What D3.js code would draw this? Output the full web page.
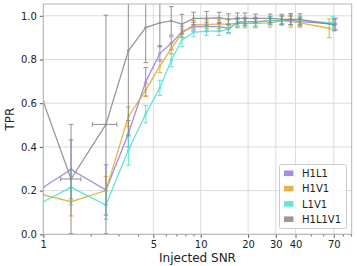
<!DOCTYPE html>
<html><head><meta charset="utf-8">
<script src="https://cdn.jsdelivr.net/npm/d3@7/dist/d3.min.js"></script>
<style>body{margin:0;background:#fff}svg{display:block}text{font-family:"DejaVu Sans",sans-serif}</style>
</head><body>
<svg id="c" width="357" height="266"></svg>
<script>
const baseSnr = [1, 1.5, 2.5, 3.47, 4.47, 5.5, 6.5, 7.6, 9.0, 10.9, 13.1, 15.0, 17.1, 19.1, 22.3, 27.6, 32.7, 37.3, 42.7];
const seriesNames = ["H1L1", "H1V1", "L1V1", "H1L1V1"];
const seriesColors = ["mediumpurple", "goldenrod", "turquoise", "gray"];
const lastSnr = [72, 65.5, 68.8, 70.4];
const tprH1L1 = [0.215, 0.297, 0.203, 0.46, 0.698, 0.828, 0.874, 0.927, 0.95, 0.95, 0.95, 0.943, 0.968, 0.973, 0.973, 0.978, 0.978, 0.98, 0.973, 0.962];
const errH1L1 = [0, 0.135, 0.115, 0.06, 0.065, 0.035, 0.03, 0.025, 0.02, 0.02, 0.02, 0.02, 0.018, 0.018, 0.02, 0.018, 0.02, 0.02, 0.02, 0.027];
const tprH1V1 = [0.18, 0.149, 0.2, 0.538, 0.66, 0.77, 0.851, 0.92, 0.958, 0.961, 0.962, 0.962, 0.965, 0.965, 0.965, 0.968, 0.978, 0.973, 0.968, 0.943];
const errH1V1 = [0, 0.065, 0.065, 0.045, 0.03, 0.03, 0.025, 0.02, 0.02, 0.02, 0.02, 0.02, 0.02, 0.02, 0.02, 0.02, 0.02, 0.025, 0.02, 0.043];
const tprL1V1 = [0.149, 0.215, 0.134, 0.386, 0.55, 0.67, 0.797, 0.889, 0.924, 0.93, 0.93, 0.938, 0.973, 0.973, 0.97, 0.978, 0.98, 0.985, 0.978, 0.968];
const errL1V1 = [0, 0.08, 0.065, 0.07, 0.04, 0.035, 0.03, 0.03, 0.02, 0.02, 0.02, 0.02, 0.02, 0.02, 0.02, 0.02, 0.02, 0.025, 0.02, 0.03];
const tprH1L1V1 = [0.607, 0.253, 0.503, 0.84, 0.946, 0.968, 0.977, 0.962, 0.988, 0.988, 0.991, 0.984, 0.988, 0.988, 0.988, 0.988, 0.985, 0.984, 0.984, 0.958];
const errH1L1V1 = [0, 0.25, 0.5, 0.39, 0.16, 0.11, 0.065, 0.045, 0.028, 0.032, 0.025, 0.025, 0.025, 0.025, 0.02, 0.02, 0.022, 0.025, 0.025, 0.027];
// horizontal error bars (gray series only): [snr, low, high]
const xerrH1L1V1 = [[1.5, 1.29, 1.73], [2.5, 2.05, 2.93]];
const xTickMajor = [1, 5, 10, 20, 30, 40, 70];
const xTickMinor = [2, 3, 4, 6, 7, 8, 9, 50, 60, 80, 90];
const yTicks = [0, 0.2, 0.4, 0.6, 0.8, 1.0];

const tprs = [tprH1L1, tprH1V1, tprL1V1, tprH1L1V1];
const errs = [errH1L1, errH1V1, errL1V1, errH1L1V1];

const svg = d3.select("#c");
const L = 43.3, R = 351.7, T = 4, B = 234.3;
const x = d3.scaleLog().domain([1, 91]).range([L, R]);
const y = d3.scaleLinear().domain([0, 1.054]).range([B, T]);

svg.append("defs").append("clipPath").attr("id", "clip")
  .append("rect").attr("x", L).attr("y", T).attr("width", R - L).attr("height", B - T);

// grid
const grid = svg.append("g");
grid.selectAll(".gy").data(yTicks).join("line")
  .attr("x1", L).attr("x2", R).attr("y1", d => y(d)).attr("y2", d => y(d))
  .attr("stroke", "#dcdcdc").attr("stroke-width", 1);
grid.selectAll(".gx").data(xTickMajor).join("line")
  .attr("y1", T).attr("y2", B).attr("x1", d => x(d)).attr("x2", d => x(d))
  .attr("stroke", "#dcdcdc").attr("stroke-width", 1);

// axes
const xAxis = d3.axisBottom(x).tickValues(xTickMajor).tickFormat(d3.format("d")).tickSize(3.5).tickPadding(3);
const xMinor = d3.axisBottom(x).tickValues(xTickMinor).tickFormat("").tickSize(2);
const yAxis = d3.axisLeft(y).tickValues(yTicks).tickFormat(d3.format(".1f")).tickSize(3.5).tickPadding(3);
function styleAxis(g) {
  g.select(".domain").remove();
  g.selectAll("line").attr("stroke", "#555");
  g.selectAll("text").attr("font-size", 10).attr("fill", "#222").attr("font-family", "DejaVu Sans");
}
svg.append("g").attr("transform", `translate(0,${B})`).call(xAxis).call(styleAxis);
svg.append("g").attr("transform", `translate(0,${B})`).call(xMinor).call(styleAxis);
svg.append("g").attr("transform", `translate(${L},0)`).call(yAxis).call(styleAxis);

// data
const plot = svg.append("g").attr("clip-path", "url(#clip)");
seriesNames.forEach((name, si) => {
  const snr = baseSnr.concat([lastSnr[si]]);
  const pts = snr.map((s, i) => ({s, v: tprs[si][i], e: errs[si][i]}));
  const g = plot.append("g").attr("opacity", 0.8);
  const col = seriesColors[si];
  g.append("path").datum(pts)
    .attr("d", d3.line().x(d => x(d.s)).y(d => y(d.v)))
    .attr("fill", "none").attr("stroke", col).attr("stroke-width", 1.3);
  const eb = pts.filter(d => d.e > 0);
  g.selectAll(".ev").data(eb).join("line")
    .attr("x1", d => x(d.s)).attr("x2", d => x(d.s))
    .attr("y1", d => y(d.v - d.e)).attr("y2", d => y(d.v + d.e))
    .attr("stroke", col).attr("stroke-width", 1.1);
  [-1, 1].forEach(sg => {
    g.selectAll(".cap" + sg).data(eb).join("line")
      .attr("x1", d => x(d.s) - 2.3).attr("x2", d => x(d.s) + 2.3)
      .attr("y1", d => y(d.v + sg * d.e)).attr("y2", d => y(d.v + sg * d.e))
      .attr("stroke", col).attr("stroke-width", 1.1);
  });
  if (name === "H1L1V1") {
    const xe = xerrH1L1V1.map(a => ({s: a[0], lo: a[1], hi: a[2], v: pts.find(p => p.s === a[0]).v}));
    g.selectAll(".eh").data(xe).join("line")
      .attr("x1", d => x(d.lo)).attr("x2", d => x(d.hi))
      .attr("y1", d => y(d.v)).attr("y2", d => y(d.v))
      .attr("stroke", col).attr("stroke-width", 1.1);
    ["lo", "hi"].forEach(k => {
      g.selectAll(".ch" + k).data(xe).join("line")
        .attr("x1", d => x(d[k])).attr("x2", d => x(d[k]))
        .attr("y1", d => y(d.v) - 2.3).attr("y2", d => y(d.v) + 2.3)
        .attr("stroke", col).attr("stroke-width", 1.1);
    });
  }
  g.selectAll("circle").data(pts).join("circle")
    .attr("cx", d => x(d.s)).attr("cy", d => y(d.v)).attr("r", 1.4).attr("fill", col);
});

// frame
svg.append("rect").attr("x", L).attr("y", T).attr("width", R - L).attr("height", B - T)
  .attr("fill", "none").attr("stroke", "#b5b5b5").attr("stroke-width", 1);

// labels
svg.append("text").attr("x", (L + R) / 2).attr("y", 262).attr("text-anchor", "middle")
  .attr("font-size", 12).attr("fill", "#222").text("Injected SNR");
svg.append("text").attr("transform", `translate(14,${(T + B) / 2}) rotate(-90)`)
  .attr("text-anchor", "middle").attr("font-size", 12).attr("fill", "#222").text("TPR");

// legend
const lg = svg.append("g");
lg.append("rect").attr("x", 279.5).attr("y", 164.5).attr("width", 67).attr("height", 64)
  .attr("rx", 2).attr("fill", "#fff").attr("fill-opacity", 0.8).attr("stroke", "#ccc");
seriesNames.forEach((n, i) => {
  const cy = 173.3 + i * 15.3;
  lg.append("rect").attr("x", 284).attr("y", cy - 2.8).attr("width", 9.5).attr("height", 5.6)
    .attr("fill", seriesColors[i]).attr("opacity", 0.8);
  lg.append("text").attr("x", 302).attr("y", cy + 3.6).attr("font-size", 10).attr("fill", "#222").text(n);
});
</script>
</body></html>
